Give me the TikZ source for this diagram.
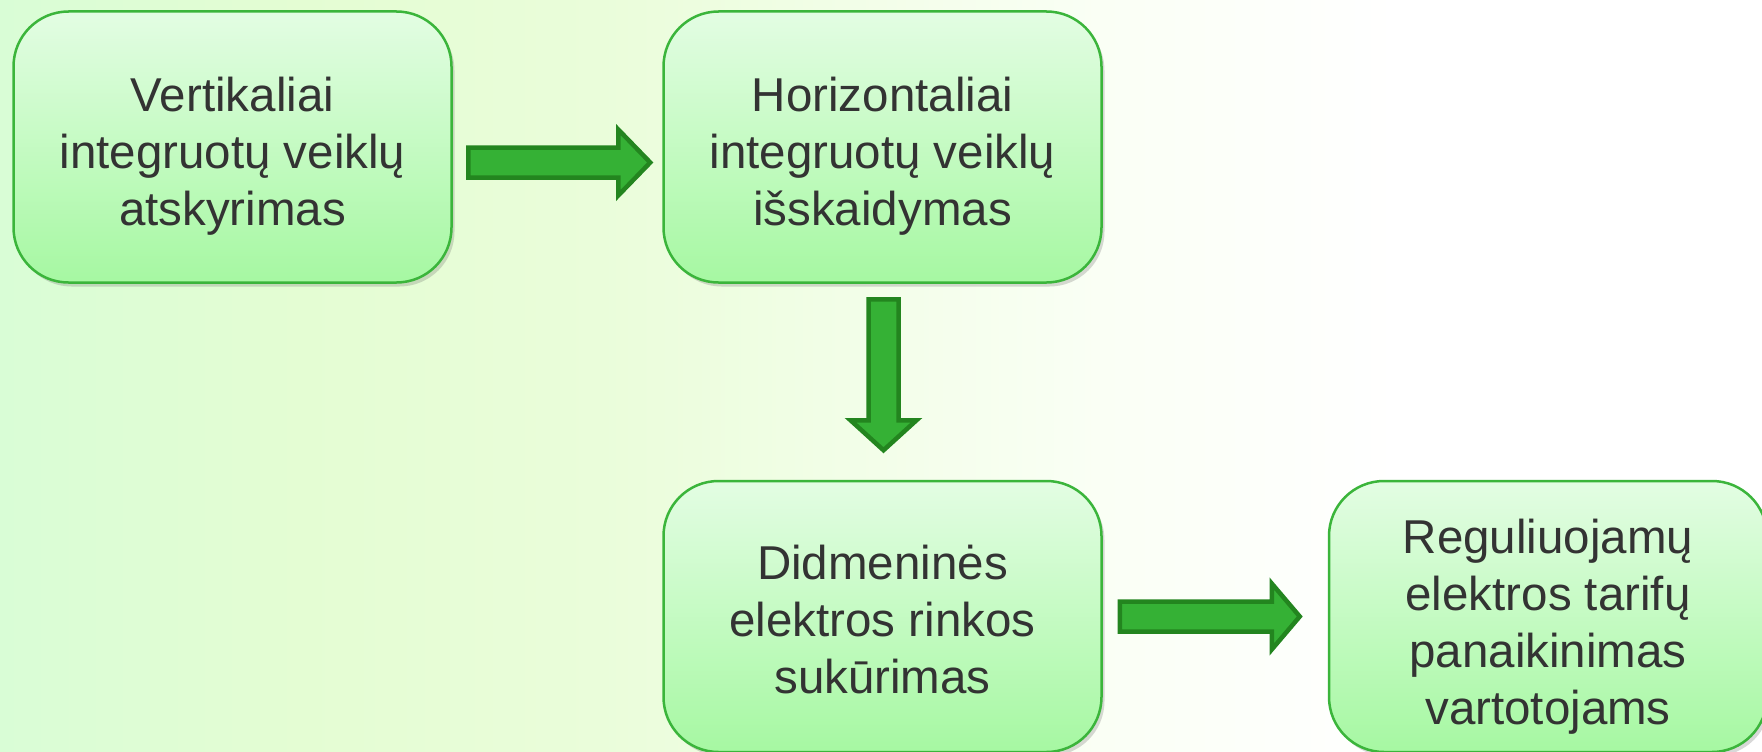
\documentclass[tikz,border=0pt]{standalone}
\usepackage{fontspec}
\setmainfont{Liberation Sans}
\usetikzlibrary{calc,shadows}
\definecolor{bgA}{HTML}{D9FDD6}
\definecolor{bgB}{HTML}{E4FDD3}
\definecolor{bgC}{HTML}{EAFDDA}
\definecolor{bgD}{HTML}{FAFFF5}
\definecolor{boxTop}{HTML}{E3FDE3}
\definecolor{boxBot}{HTML}{A6F8A2}
\definecolor{boxLine}{HTML}{3BB53B}
\definecolor{arrFill}{HTML}{35B135}
\definecolor{arrLine}{HTML}{23851F}
\definecolor{txt}{HTML}{333333}
\tikzset{
  stepbox/.style={rectangle, rounded corners=55pt, minimum width=438pt, minimum height=271pt,
    draw=boxLine, line width=2.5pt, top color=boxTop, bottom color=boxBot,
    drop shadow={shadow xshift=3pt, shadow yshift=-4pt, opacity=0.25, fill=black!60},
    inner sep=0pt},
  boxtext/.style={align=center, text=txt, inner sep=0pt,
    font=\fontsize{47.5pt}{57pt}\selectfont},
  fatarrow/.style={draw=arrLine, fill=arrFill, line width=4.5pt, line join=miter}
}
\newcommand\blockarrow[4]{% start coordinate, shaft length, head length, rotation
  \draw[fatarrow, shift={(#1)}, rotate=#4]
    (0,-15) -- (#2,-15) -- (#2,-33) -- ({#2+#3},0) -- (#2,33) -- (#2,15) -- (0,15) -- cycle;}
\begin{document}
\begin{tikzpicture}[x=1pt,y=1pt]
\useasboundingbox (0,0) rectangle (1762,-752);
% background
\shade[left color=bgA, right color=bgB] (0,0) rectangle (300,-752);
\shade[left color=bgB, right color=bgC] (299.5,0) rectangle (600,-752);
\shade[left color=bgC, right color=bgD] (599.5,0) rectangle (1100,-752);
\shade[left color=bgD, right color=white] (1099.5,0) rectangle (1400,-752);
\fill[white] (1399.5,0) rectangle (1762,-752);
% boxes
\node[stepbox] (b1) at (232.5,-147) {};
\node[stepbox] (b2) at (882.5,-147) {};
\node[stepbox] (b3) at (882.5,-616.5) {};
\node[stepbox] (b4) at (1548,-616.5) {};
\node[boxtext] (t1) at ($(b1.center)+(0,-9)$) {Vertikaliai\\integruotų veiklų\\atskyrimas};
\node[boxtext] (t2) at ($(b2.center)+(0,-9)$) {Horizontaliai\\integruotų veiklų\\išskaidymas};
\node[boxtext] (t3) at ($(b3.center)+(0,-3)$) {Didmeninės\\elektros rinkos\\sukūrimas};
\node[boxtext] (t4) at ($(b4.center)+(0,-10)$) {Reguliuojamų\\elektros tarifų\\panaikinimas\\vartotojams};
% connectors
\coordinate (a1) at ($(b1.east)+(15.5,-15.5)$);
\coordinate (a2) at ($(b2.south)+(1,-15.5)$);
\coordinate (a3) at ($(b3.east)+(17,0)$);
\blockarrow{a1}{150}{32}{0}
\blockarrow{a2}{121}{30}{-90}
\blockarrow{a3}{152}{28}{0}
\end{tikzpicture}
\end{document}
